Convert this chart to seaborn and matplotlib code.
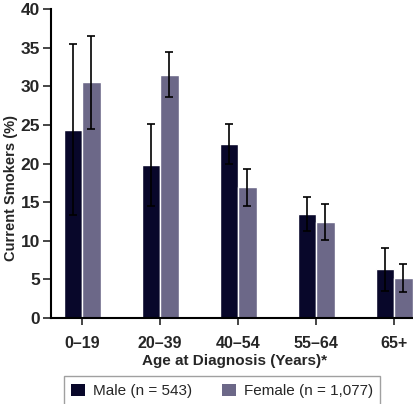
import matplotlib
matplotlib.use("Agg")
import matplotlib.pyplot as plt
import seaborn as sns
import pandas as pd
import numpy as np
from matplotlib.patches import Patch

categories = ["0\u201319", "20\u201339", "40\u201354", "55\u201364", "65+"]
male = [24.4, 19.8, 22.5, 13.5, 6.3]
male_err = [11.1, 5.3, 2.6, 2.2, 2.8]
female = [30.5, 31.5, 16.9, 12.4, 5.2]
female_err = [6.0, 2.9, 2.4, 2.35, 1.8]
series = ["Male (n = 543)", "Female (n = 1,077)"]
yticks = [0, 5, 10, 15, 20, 25, 30, 35, 40]

sns.set_style("ticks")
plt.rcParams["font.family"] = ["Liberation Sans", "DejaVu Sans"]

df = pd.DataFrame({
    "Age": categories * 2,
    "Value": male + female,
    "Sex": [series[0]] * len(categories) + [series[1]] * len(categories),
})

W, H = 414, 404
fig = plt.figure(figsize=(W / 100, H / 100), dpi=100)
ax_left = 51
ax_right = ax_left + 5 * 78
ax_top, ax_bot = 9, 318
ax = fig.add_axes([ax_left / W, (H - ax_bot) / H, (ax_right - ax_left) / W, (ax_bot - ax_top) / H])

colors = ["#08072a", "#6c6888"]
sns.barplot(data=df, x="Age", y="Value", hue="Sex", hue_order=series,
            order=categories, palette=colors, width=0.47, errorbar=None,
            saturation=1, ax=ax, legend=False)

for cont, errs in zip(ax.containers, [male_err, female_err]):
    xs = [b.get_x() + b.get_width() / 2 for b in cont]
    ys = [b.get_height() for b in cont]
    ax.errorbar(xs, ys, yerr=errs, fmt="none", ecolor="black", elinewidth=1.2,
                capsize=3, capthick=1.2, zorder=5)

ax.set_xlim(-0.4, 4.6)
ax.set_ylim(0, 40)
ax.set_yticks(yticks)
ax.set_yticklabels([str(t) for t in yticks], fontsize=12.5, fontweight="bold")
ax.tick_params(axis="y", length=6, width=1.2, pad=2)
ax.tick_params(axis="x", length=5, width=1.2, pad=8, labelsize=11.5)
for lbl in ax.get_xticklabels():
    lbl.set_fontweight("bold")
sns.despine(ax=ax)
for s in ["left", "bottom"]:
    ax.spines[s].set_linewidth(1.5)
    ax.spines[s].set_color("black")

ax.set_xlabel("Age at Diagnosis (Years)*", fontsize=11, fontweight="bold")
ax.xaxis.set_label_coords((235 - ax_left) / (ax_right - ax_left), -0.115)
ax.set_ylabel("Current Smokers (%)", fontsize=10.5, fontweight="bold")
ax.yaxis.set_label_coords((18 - ax_left) / (ax_right - ax_left), 0.42)

handles = [Patch(facecolor=c, edgecolor="none") for c in colors]
leg = fig.legend(handles, series, loc="upper center", ncol=2,
                 bbox_to_anchor=(222 / W, (H - 376) / H), frameon=True,
                 fancybox=False, edgecolor="#888888", fontsize=11,
                 handlelength=0.9, handleheight=0.9, columnspacing=2.0,
                 handletextpad=0.5, borderpad=0.5, borderaxespad=0)
leg.get_frame().set_linewidth(1.0)

fig.savefig("out.png", dpi=100)
